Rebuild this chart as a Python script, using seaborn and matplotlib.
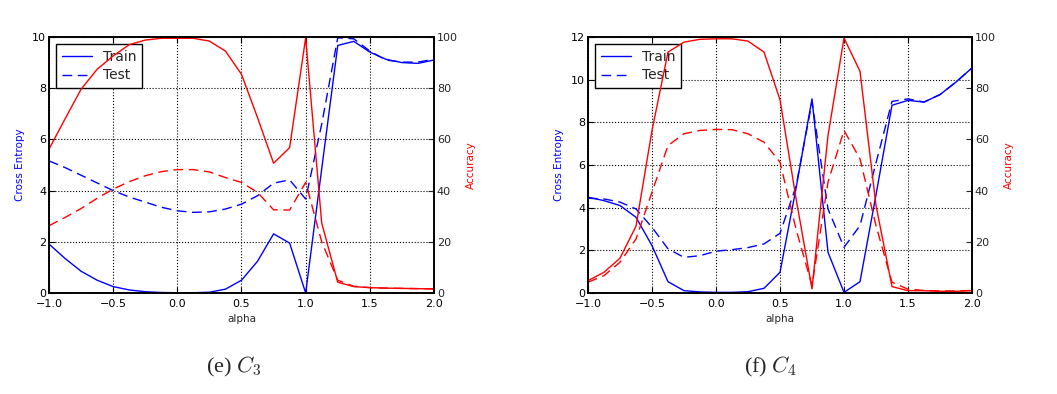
import numpy as np
import pandas as pd
import matplotlib
matplotlib.use("Agg")
import matplotlib.pyplot as plt
import seaborn as sns

# ---------------- data ----------------
alpha = [-1.0, -0.875, -0.75, -0.625, -0.5, -0.375, -0.25, -0.125, 0.0,
         0.125, 0.25, 0.375, 0.5, 0.625, 0.75, 0.875, 1.0, 1.125, 1.25,
         1.375, 1.5, 1.625, 1.75, 1.875, 2.0]

# Panel (e) C3
c3_train_ce = [1.91, 1.35, 0.85, 0.5, 0.25, 0.12, 0.05, 0.02, 0.01,
               0.01, 0.03, 0.15, 0.5, 1.24, 2.31, 1.95, 0.0, 4.85, 9.67,
               9.83, 9.41, 9.13, 9.0, 8.97, 9.1]
c3_test_ce = [5.16, 4.9, 4.6, 4.3, 4.0, 3.75, 3.55, 3.35, 3.21,
              3.15, 3.17, 3.28, 3.47, 3.8, 4.29, 4.42, 3.67, 6.6, 9.97,
              9.93, 9.45, 9.1, 9.02, 9.02, 9.13]
c3_train_acc = [56.2, 68.0, 79.6, 87.4, 92.6, 97.0, 98.8, 99.5, 99.5,
                99.5, 98.4, 94.5, 85.4, 68.5, 50.7, 56.8, 99.7, 27.3, 4.2,
                2.5, 2.1, 1.9, 1.8, 1.7, 1.6]
c3_test_acc = [26.3, 29.5, 33.0, 37.0, 40.6, 43.5, 45.8, 47.4, 48.2,
               48.2, 47.3, 45.1, 43.2, 39.3, 32.5, 32.4, 43.2, 20.0, 5.0,
               2.6, 2.1, 1.9, 1.8, 1.7, 1.6]

# Panel (f) C4
c4_train_ce = [4.49, 4.33, 4.1, 3.55, 2.22, 0.53, 0.11, 0.05, 0.03,
               0.03, 0.06, 0.22, 0.97, 4.9, 9.1, 1.91, 0.03, 0.53, 4.6,
               8.8, 9.03, 8.95, 9.3, 9.89, 10.55]
c4_test_ce = [4.44, 4.41, 4.26, 3.94, 3.08, 2.07, 1.67, 1.75, 1.96,
              2.03, 2.13, 2.3, 2.8, 5.0, 8.95, 3.94, 2.14, 3.16, 6.1,
              8.98, 9.1, 8.95, 9.3, 9.89, 10.55]
c4_train_acc = [4.8, 8.1, 13.6, 26.1, 63.5, 94.1, 98.0, 99.1, 99.3,
                99.3, 98.4, 94.1, 75.5, 37.0, 1.6, 61.5, 99.6, 86.6, 34.2,
                2.5, 0.9, 0.9, 0.65, 0.65, 0.9]
c4_test_acc = [4.2, 6.8, 12.0, 21.1, 39.4, 57.6, 62.2, 63.5, 63.9,
               63.8, 62.2, 58.9, 51.1, 25.0, 2.9, 43.3, 63.5, 52.4, 26.3,
               4.2, 1.5, 1.0, 0.8, 0.8, 1.0]

captions = ["(e) $C_3$", "(f) $C_4$"]
ce_ylims = [10, 12]

# ---------------- style ----------------
sns.set_style("white")
plt.rcParams['font.family'] = ['DejaVu Sans']
plt.rcParams['mathtext.fontset'] = 'cm'

fig = plt.figure(figsize=(10.57, 3.94), dpi=100)
positions = [[49 / 1057, 101 / 394, 385 / 1057, 256 / 394],
             [588 / 1057, 101 / 394, 384 / 1057, 256 / 394]]
caption_x = [234 / 1057, 770 / 1057]

panels = [
    (c3_train_ce, c3_test_ce, c3_train_acc, c3_test_acc),
    (c4_train_ce, c4_test_ce, c4_train_acc, c4_test_acc),
]
dash = (0, (7, 4))

for i, (tr_ce, te_ce, tr_acc, te_acc) in enumerate(panels):
    df = pd.DataFrame({"alpha": alpha, "train_ce": tr_ce, "test_ce": te_ce,
                       "train_acc": tr_acc, "test_acc": te_acc})
    ax = fig.add_axes(positions[i])
    ax2 = ax.twinx()

    sns.lineplot(data=df, x="alpha", y="train_ce", ax=ax, color="#0000ff",
                 lw=1.0, label="Train")
    sns.lineplot(data=df, x="alpha", y="test_ce", ax=ax, color="#0000ff",
                 lw=1.0, linestyle=dash, label="Test")
    sns.lineplot(data=df, x="alpha", y="train_acc", ax=ax2, color="#ff0000",
                 lw=1.0, legend=False)
    sns.lineplot(data=df, x="alpha", y="test_acc", ax=ax2, color="#ff0000",
                 lw=1.0, linestyle=dash, legend=False)

    ax.set_xlim(-1.0, 2.0)
    ax.set_ylim(0, ce_ylims[i])
    ax2.set_ylim(0, 100)
    ax.set_xticks([-1.0, -0.5, 0.0, 0.5, 1.0, 1.5, 2.0])
    ax.set_xticklabels(["\u22121.0", "\u22120.5", "0.0", "0.5", "1.0", "1.5", "2.0"])
    ax.set_yticks(np.arange(0, ce_ylims[i] + 1, 2))
    ax2.set_yticks(np.arange(0, 101, 20))

    ax.set_xlabel("alpha", fontsize=7.5, labelpad=4)
    ax.set_ylabel("Cross Entropy", fontsize=7.5, color="#0000ff", labelpad=5)
    ax2.set_ylabel("Accuracy", fontsize=7.5, color="#ff0000", labelpad=6)

    ax.grid(True, linestyle=":", color="black", linewidth=0.8)
    ax2.grid(False)

    ax.tick_params(axis="x", direction="in", length=4, width=0.8,
                   labelsize=8, top=True, bottom=True, pad=4, colors="black")
    ax.tick_params(axis="y", direction="in", length=4, width=0.8,
                   labelsize=8, left=True, right=False, pad=2, colors="black")
    ax2.tick_params(axis="y", direction="in", length=4, width=0.8,
                    labelsize=8, right=True, pad=2)
    for a in (ax, ax2):
        for s in a.spines.values():
            s.set_color("black")
            s.set_linewidth(1.2)
            s.set_visible(True)

    leg = ax.legend(loc="upper left", fontsize=10, frameon=True, fancybox=False,
                    edgecolor="black", framealpha=1.0, handlelength=2.2,
                    borderpad=0.4, labelspacing=0.35, borderaxespad=0.5)
    leg.get_frame().set_linewidth(1.0)

    fig.text(caption_x[i], 1 - 367 / 394, captions[i], ha="center",
             va="center", fontsize=16, family="Liberation Serif")

fig.savefig("out.png", dpi=100)
